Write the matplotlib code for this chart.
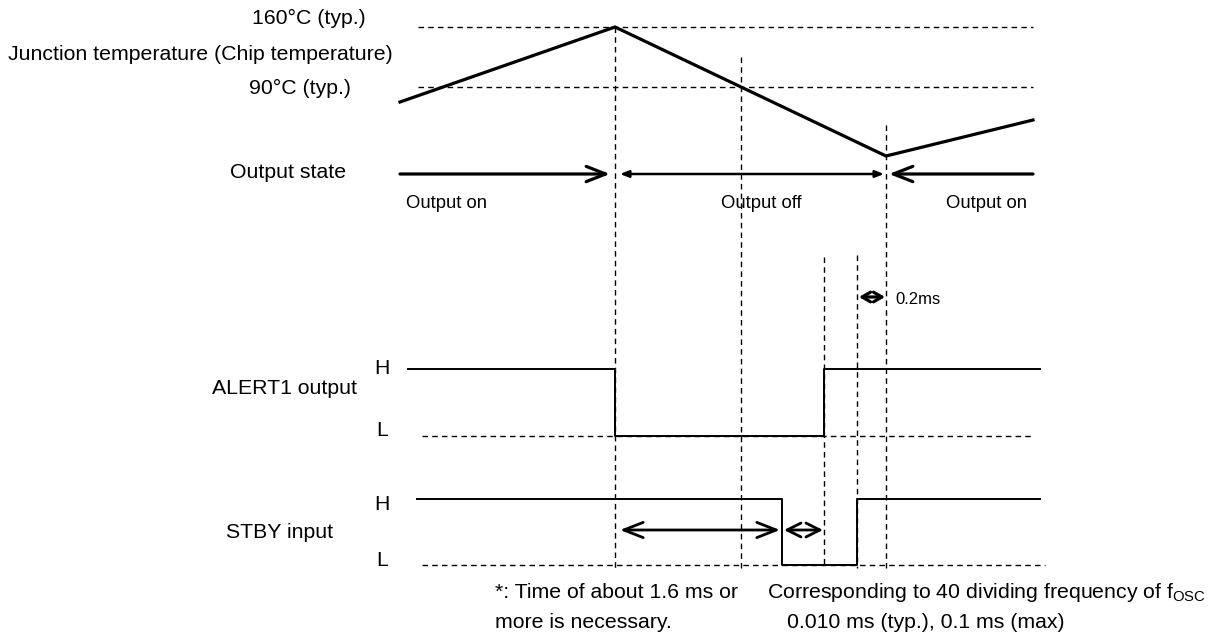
import matplotlib
matplotlib.use("Agg")
import matplotlib.pyplot as plt

plt.rcParams['font.family'] = ['Liberation Sans', 'DejaVu Sans']

# ---- data (diagram units, x = time, y = level position) ----
temp_t = [400, 615, 886, 1033]
temp_level = [102, 27, 156, 120]
ref_levels = [27, 87]                 # 160°C and 90°C dashed
ref_labels = ["160°C (typ.)", "90°C (typ.)"]

alert_t = [408, 615, 615, 824, 824, 1040]
alert_v = [369, 369, 436, 436, 369, 369]
stby_t = [417, 782, 782, 857, 857, 1040]
stby_v = [499, 499, 565, 565, 499, 499]

event_t = [615, 741, 824, 857, 886]
event_top = [27, 57, 257, 255, 125]

state_labels = ["Output on", "Output off", "Output on"]
state_label_x = [447, 761, 987]

W, H = 1221, 634
fig = plt.figure(figsize=(W / 100, H / 100), dpi=100)
ax = fig.add_axes([0, 0, 1, 1])
ax.set_xlim(0, W)
ax.set_ylim(H, 0)
ax.axis('off')

dash = dict(color='black', lw=1.0, ls=(0, (4, 3)))

# horizontal reference dashes
for lv in ref_levels:
    ax.plot([418, 1033], [lv, lv], **dash)
ax.plot([422, 1033], [436, 436], **dash)
ax.plot([422, 1045], [565, 565], **dash)

# vertical event dashes
for t, top in zip(event_t, event_top):
    ax.plot([t, t], [top, 568], **dash)

# temperature
ax.plot(temp_t, temp_level, color='black', lw=2.3, solid_joinstyle='miter')

# output state arrows
ys = 174
ax.annotate('', xy=(610, ys), xytext=(400, ys),
            arrowprops=dict(arrowstyle='->,head_length=1.4,head_width=0.55', lw=2.3, color='black',
                            shrinkA=0, shrinkB=0))
ax.annotate('', xy=(620, ys), xytext=(884, ys),
            arrowprops=dict(arrowstyle='<|-|>,head_length=0.5,head_width=0.2', lw=1.8, color='black',
                            shrinkA=0, shrinkB=0))
ax.annotate('', xy=(889, ys), xytext=(1033, ys),
            arrowprops=dict(arrowstyle='->,head_length=1.4,head_width=0.55', lw=2.3, color='black',
                            shrinkA=0, shrinkB=0))
for lab, x in zip(state_labels, state_label_x):
    ax.text(x, 204, lab, fontsize=13.3, ha='center', va='center')

# 0.2ms arrow
ax.annotate('', xy=(859, 297), xytext=(885, 297),
            arrowprops=dict(arrowstyle='<->,head_length=0.6,head_width=0.35', lw=2.3, color='black',
                            shrinkA=0, shrinkB=0))
ax.text(895, 299, "0.2ms", fontsize=12, ha='left', va='center')

# signals
ax.plot(alert_t, alert_v, color='black', lw=1.4)
ax.plot(stby_t, stby_v, color='black', lw=1.4)

# STBY timing arrows
ax.annotate('', xy=(620, 530), xytext=(780, 530),
            arrowprops=dict(arrowstyle='<->,head_length=1.4,head_width=0.55', lw=2.0, color='black',
                            shrinkA=0, shrinkB=0))
ax.annotate('', xy=(784, 530), xytext=(823, 530),
            arrowprops=dict(arrowstyle='<->,head_length=1.0,head_width=0.5', lw=2.0, color='black',
                            shrinkA=0, shrinkB=0))

fs = 15.3
# left labels
ax.text(309, 18, ref_labels[0], fontsize=fs, ha='center', va='center')
ax.text(200, 55, "Junction temperature (Chip temperature)", fontsize=fs, ha='center', va='center')
ax.text(300, 88, ref_labels[1], fontsize=fs, ha='center', va='center')
ax.text(288, 173, "Output state", fontsize=fs, ha='center', va='center')
ax.text(284, 389, "ALERT1 output", fontsize=fs, ha='center', va='center')
ax.text(280, 533, "STBY input", fontsize=fs, ha='center', va='center')
ax.text(382, 369, "H", fontsize=fs, ha='center', va='center')
ax.text(382, 431, "L", fontsize=fs, ha='center', va='center')
ax.text(382, 505, "H", fontsize=fs, ha='center', va='center')
ax.text(382, 561, "L", fontsize=fs, ha='center', va='center')

# bottom notes
ax.text(495, 592, "*: Time of about 1.6 ms or", fontsize=fs, ha='left', va='center')
ax.text(495, 622, "more is necessary.", fontsize=fs, ha='left', va='center')
ax.text(767, 592, r"Corresponding to 40 dividing frequency of f$_{\mathregular{OSC}}$", fontsize=fs,
        ha='left', va='center')
ax.text(787, 622, "0.010 ms (typ.), 0.1 ms (max)", fontsize=fs, ha='left', va='center')

fig.savefig("out.png", dpi=100)
